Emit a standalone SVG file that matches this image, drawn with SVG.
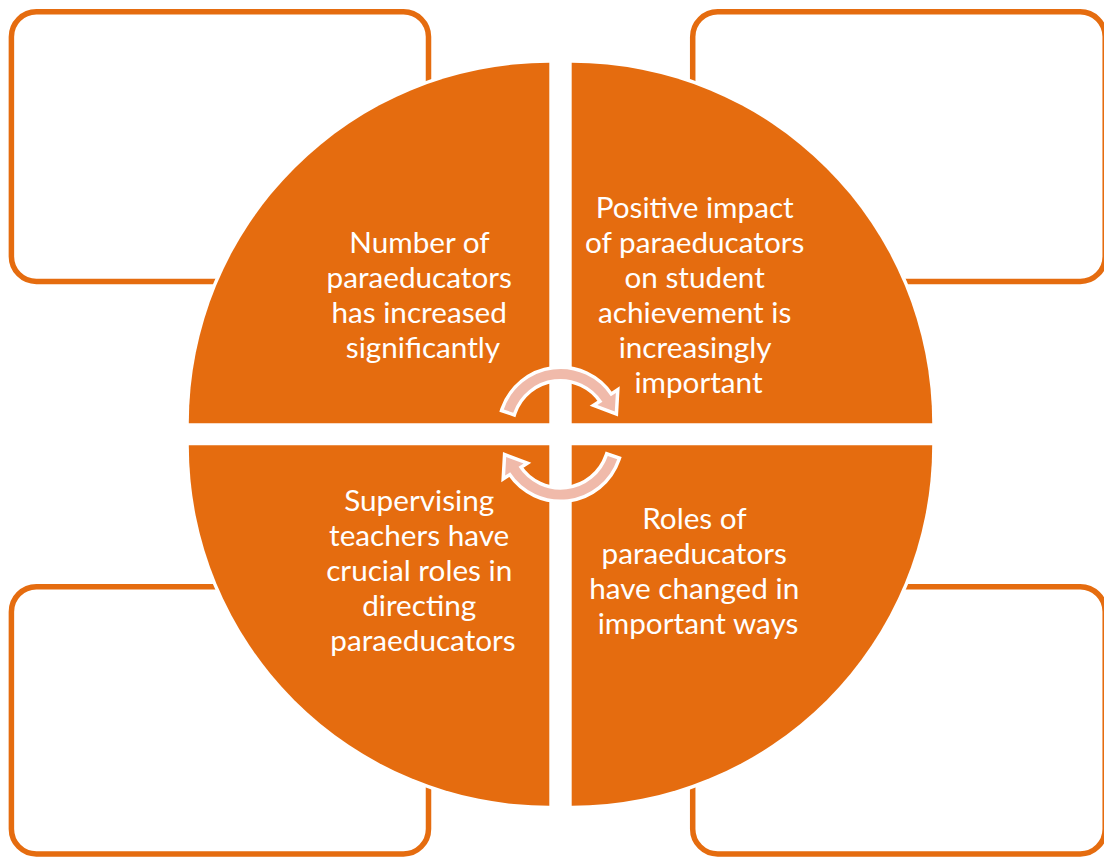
<svg xmlns="http://www.w3.org/2000/svg" width="1104" height="857" viewBox="0 0 1104 857">
  <style>
    .box { fill: #FFFFFF; stroke: #E56C0F; stroke-width: 5.5; }
    .quad { fill: #E56C0F; stroke: #FFFFFF; stroke-width: 7; paint-order: stroke; }
    .cycle { fill: #F0BAAA; stroke: #FFFFFF; stroke-width: 7; paint-order: stroke; stroke-linejoin: miter; }
    .label { fill: #FFFFFF; font-family: Lato, "Open Sans", "Liberation Sans", sans-serif; font-size: 29.7px; text-anchor: middle; }
  </style>

  <!-- Outline boxes behind the circle -->
  <g id="box-top-left"><rect class="box" x="11.4" y="11.8" width="417.1" height="269.7" rx="25"/></g>
  <g id="box-top-right"><rect class="box" x="692.7" y="11.8" width="412.5" height="269.7" rx="25"/></g>
  <g id="box-bottom-left"><rect class="box" x="11.4" y="586.7" width="417.1" height="267.3" rx="25"/></g>
  <g id="box-bottom-right"><rect class="box" x="692.7" y="586.7" width="412.5" height="267.3" rx="25"/></g>

  <!-- Quarter-circle segments -->
  <g id="quad-top-left">
    <path class="quad" d="M549.3,423.3 H188.8 A360.5,360.5 0 0 1 549.3,62.8 Z"/>
    <text class="label">
      <tspan x="423" y="253">Number of</tspan>
      <tspan x="423" y="288">paraeducators</tspan>
      <tspan x="423" y="323">has increased</tspan>
      <tspan x="423" y="358">significantly</tspan>
    </text>
  </g>
  <g id="quad-top-right">
    <path class="quad" d="M571.7,423.3 V62.8 A360.5,360.5 0 0 1 932.2,423.3 Z"/>
    <text class="label">
      <tspan x="698.5" y="218">Positive impact</tspan>
      <tspan x="698.5" y="253">of paraeducators</tspan>
      <tspan x="698.5" y="288">on student</tspan>
      <tspan x="698.5" y="323">achievement is</tspan>
      <tspan x="698.5" y="358">increasingly</tspan>
      <tspan x="698.5" y="393">important</tspan>
    </text>
  </g>
  <g id="quad-bottom-right">
    <path class="quad" d="M571.7,445.3 H932.2 A360.5,360.5 0 0 1 571.7,805.8 Z"/>
    <text class="label">
      <tspan x="698" y="529">Roles of</tspan>
      <tspan x="698" y="564">paraeducators</tspan>
      <tspan x="698" y="599">have changed in</tspan>
      <tspan x="698" y="634">important ways</tspan>
    </text>
  </g>
  <g id="quad-bottom-left">
    <path class="quad" d="M549.3,445.3 V805.8 A360.5,360.5 0 0 1 188.8,445.3 Z"/>
    <text class="label">
      <tspan x="423" y="511">Supervising</tspan>
      <tspan x="423" y="546">teachers have</tspan>
      <tspan x="423" y="581">crucial roles in</tspan>
      <tspan x="423" y="616">directing</tspan>
      <tspan x="423" y="651">paraeducators</tspan>
    </text>
  </g>

  <!-- Circular arrows in the centre -->
  <g id="connectors">
    <path id="cycle-top" class="cycle" d="M503.77,409.46 A60,60 0 0 1 610.82,396.32 L615.85,393.06 L614.8,411.6 L597.40,405.04 L602.44,401.77 A50,50 0 0 0 513.22,412.72 Z"/>
    <use href="#cycle-top" transform="rotate(180 560.5 434.3)"/>
  </g>
</svg>
